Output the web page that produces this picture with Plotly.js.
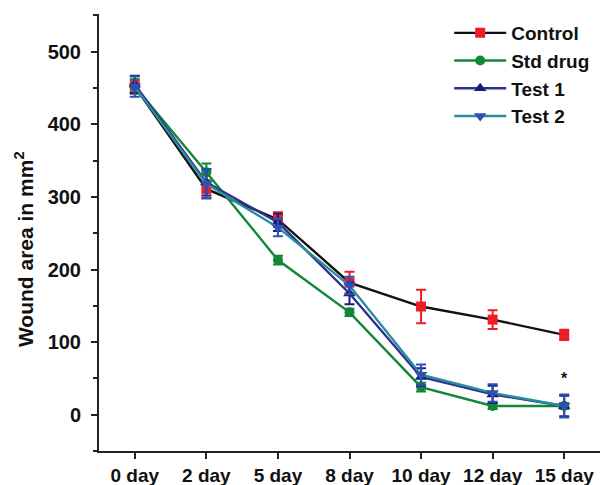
<!DOCTYPE html>
<html>
<head>
<meta charset="utf-8">
<script src="https://cdn.plot.ly/plotly-3.0.1.min.js"></script>
<style>html,body{margin:0;padding:0;background:#fff}#chart{width:600px;height:485px}</style>
</head>
<body>
<div id="chart"></div>
<script>
const days = ["0 day", "2 day", "5 day", "8 day", "10 day", "12 day", "15 day"];
const control = [452, 311, 269, 182, 149, 131, 110];
const controlErr = [8, 12, 10, 15, 23, 13, 7];
const stdDrug = [452, 334, 213, 141, 38, 12, 12];
const stdDrugErr = [10, 12, 6, 5, 6, 4, 4];
const test1 = [455, 320, 265, 167, 52, 28, 12];
const test1Err = [12, 18, 12, 15, 12, 12, 14];
const test2 = [452, 318, 258, 178, 55, 30, 12];
const test2Err = [14, 20, 12, 12, 14, 12, 16];
const yTicks = [0, 100, 200, 300, 400, 500];

const FONT = "Liberation Sans, Arial, sans-serif";

function tr(name, y, err, lineColor, markerColor, symbol, size, group) {
  return {
    type: "scatter", mode: "lines+markers", name: "<b>" + name + "</b>", x: days, y: y,
    legendgroup: group,
    line: {color: lineColor, width: 2.4},
    marker: {color: markerColor, symbol: symbol, size: size},
    error_y: {type: "data", array: err, visible: true, color: markerColor, thickness: 2, width: 5}
  };
}

const data = [
  tr("Control", control, controlErr, "#111111", "#ee1c25", "square", 10, "a"),
  tr("Std drug", stdDrug, stdDrugErr, "#12873a", "#12873a", "circle", 10, "b"),
  tr("Test 1", test1, test1Err, "#2e3192", "#1b1c7a", "triangle-up", 11, "c"),
  tr("Test 2", test2, test2Err, "#2a8c9c", "#2e4fb5", "triangle-down", 11, "d")
];

const layout = {
  width: 600, height: 485,
  margin: {l: 99, r: 0, t: 14, b: 34},
  paper_bgcolor: "#ffffff", plot_bgcolor: "#ffffff",
  font: {family: FONT, color: "#111111", size: 18, weight: "bold"},
  showlegend: true,
  legend: {
    x: 0.699, y: 1.0, xanchor: "left", yanchor: "top",
    bgcolor: "rgba(0,0,0,0)", font: {family: FONT, size: 19, color: "#111111", weight: "bold"},
    traceorder: "grouped", tracegroupgap: 0, itemwidth: 52
  },
  xaxis: {
    type: "category", range: [-0.5, 6.5], showgrid: false, zeroline: false,
    showline: true, linecolor: "#222222", linewidth: 2,
    ticks: "outside", ticklen: 6, tickwidth: 2, tickcolor: "#222222",
    minor: {ticks: "outside", ticklen: 4, tickwidth: 2, tickcolor: "#222222", dtick: 0.5, tick0: -0.5},
    tickvals: days, ticktext: days.map(d => "<b>" + d + "</b>"),
    tickfont: {family: FONT, size: 19, weight: "bold", color: "#111111"},
    fixedrange: true
  },
  yaxis: {
    range: [-50, 552], showgrid: false, zeroline: false,
    showline: true, linecolor: "#222222", linewidth: 2,
    tickmode: "array", tickvals: yTicks,
    ticktext: yTicks.map(v => "<b>" + v + "</b>"),
    ticks: "outside", ticklen: 6, tickwidth: 2, tickcolor: "#222222",
    ticklabelstandoff: 6,
    minor: {tickmode: "array", tickvals: [-50, 50, 150, 250, 350, 450, 550], ticks: "outside", ticklen: 4, tickwidth: 2, tickcolor: "#222222"},
    tickfont: {family: FONT, size: 20, weight: "bold", color: "#111111"},
    fixedrange: true
  },
  annotations: [
    {x: "15 day", y: 50, text: "<b>*</b>", showarrow: false, font: {family: FONT, size: 16, color: "#111111"}, xref: "x", yref: "y"},
    {xref: "paper", yref: "paper", x: -0.1497, y: 0.462, xanchor: "center", yanchor: "middle",
     textangle: -90, showarrow: false, text: "<b>Wound area in mm<sup>2</sup></b>",
     font: {family: FONT, size: 21, color: "#111111"}}
  ]
};

Plotly.newPlot("chart", data, layout, {displayModeBar: false, staticPlot: true});
</script>
</body>
</html>
